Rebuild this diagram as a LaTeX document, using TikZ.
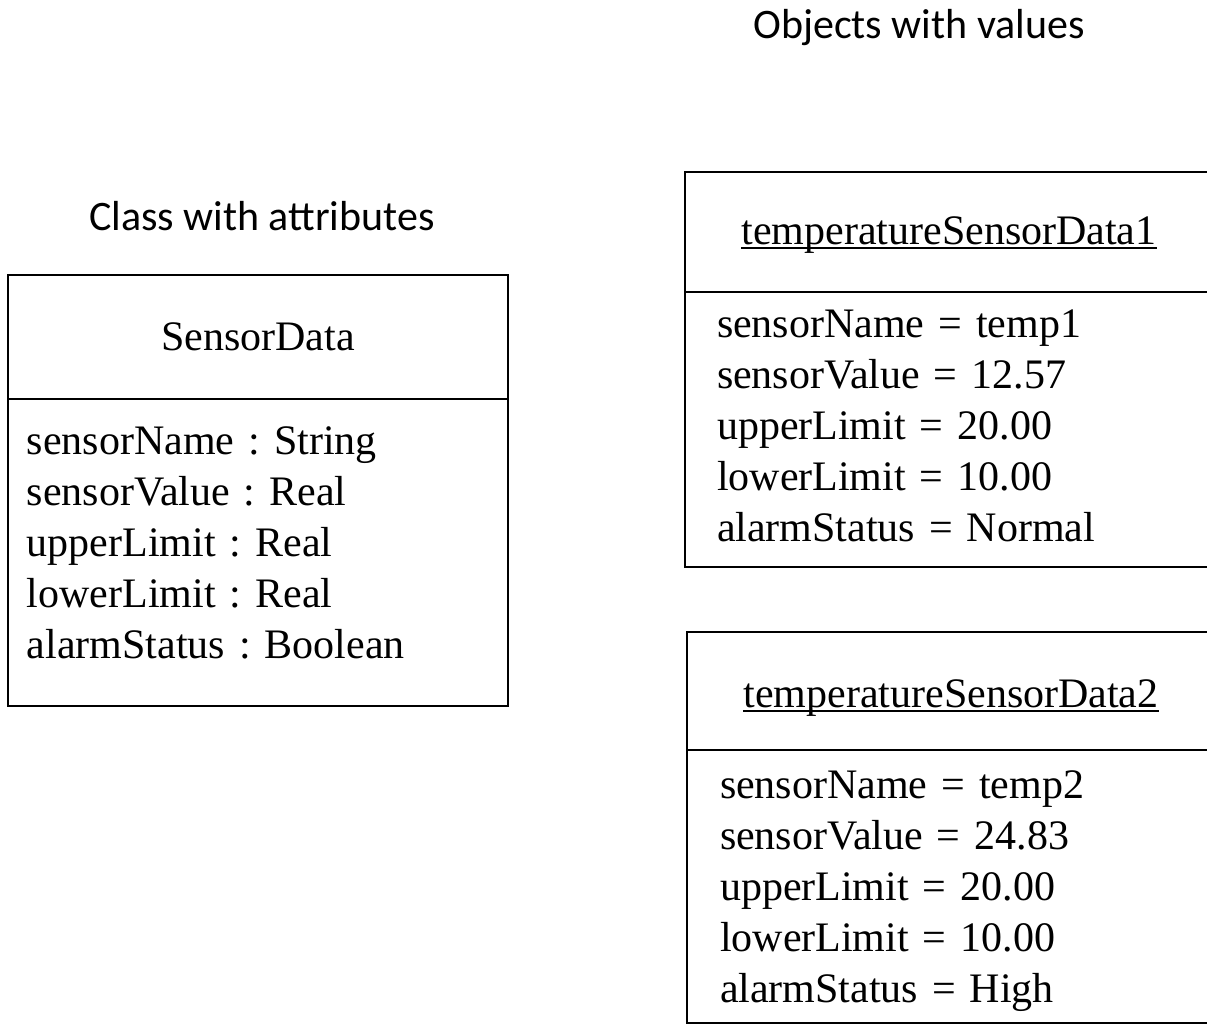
\documentclass[tikz,border=0pt]{standalone}
\usepackage{fontspec}
\setmainfont{Liberation Serif}
\newfontfamily\headfont{Carlito}
\usetikzlibrary{positioning}
\frenchspacing

% underlined object name, rule just under the baseline
\newcommand\objname[1]{\setbox0\hbox{#1}\rlap{\rule[-5pt]{\wd0}{1.8pt}}\box0}
% extra depth under the last line / extra height over the first line of a list
\newcommand\listgap[1]{\rule[-#1]{0pt}{#1}}
\newcommand\listlift[1]{\rule{0pt}{#1}}

\tikzset{
  heading/.style={font=\headfont\fontsize{42}{50}\selectfont, inner sep=0pt, anchor=base},
  titlebox/.style={draw, line width=2.4pt, inner sep=0pt, outer sep=0pt, minimum width=#1,
    font=\fontsize{42}{51}\selectfont},
  listbox/.style={draw, line width=2.4pt, inner ysep=0pt, outer sep=0pt, align=left,
    font=\fontsize{42}{51}\selectfont, minimum width=#1},
}

\begin{document}
\begin{tikzpicture}[x=1pt,y=1pt]
  \clip (0,0) rectangle (1207,-1026);
  \fill[white] (0,0) rectangle (1207,-1026);

  % headings
  \node[heading] (clshead) at (262,-230) {Class with attributes};
  \node[heading] (objhead) at (919,-38) {Objects with values};

  % class
  \node[titlebox=500pt, minimum height=124pt, anchor=north west] (cls) at (8,-275) {SensorData};
  \node[listbox=500pt, minimum height=307pt, inner xsep=19pt, text width=462pt, below=0pt of cls] (clsattr)
    {sensorName : String\\ sensorValue : Real\\ upperLimit : Real\\ lowerLimit : Real\\ alarmStatus : Boolean\listgap{19pt}};

  % object 1
  \node[titlebox=528pt, minimum height=120pt, text height=28pt, text depth=4pt, anchor=north west] (obj1) at (685,-172)
    {\objname{temperatureSensorData1}};
  \node[listbox=528pt, minimum height=275pt, inner xsep=32pt, text width=464pt, below=0pt of obj1] (obj1attr)
    {sensorName = temp1\\ sensorValue = 12.57\\ upperLimit = 20.00\\ lowerLimit = 10.00\\ alarmStatus = Normal\listgap{7.5pt}};

  % object 2
  \node[titlebox=528pt, minimum height=118pt, text height=32pt, text depth=0pt, anchor=north west] (obj2) at (687,-632)
    {\objname{temperatureSensorData2}};
  \node[listbox=528pt, minimum height=273pt, inner xsep=33pt, text width=462pt, below=0pt of obj2] (obj2attr)
    {\listlift{36.4pt}sensorName = temp2\\ sensorValue = 24.83\\ upperLimit = 20.00\\ lowerLimit = 10.00\\ alarmStatus = High};
\end{tikzpicture}
\end{document}
